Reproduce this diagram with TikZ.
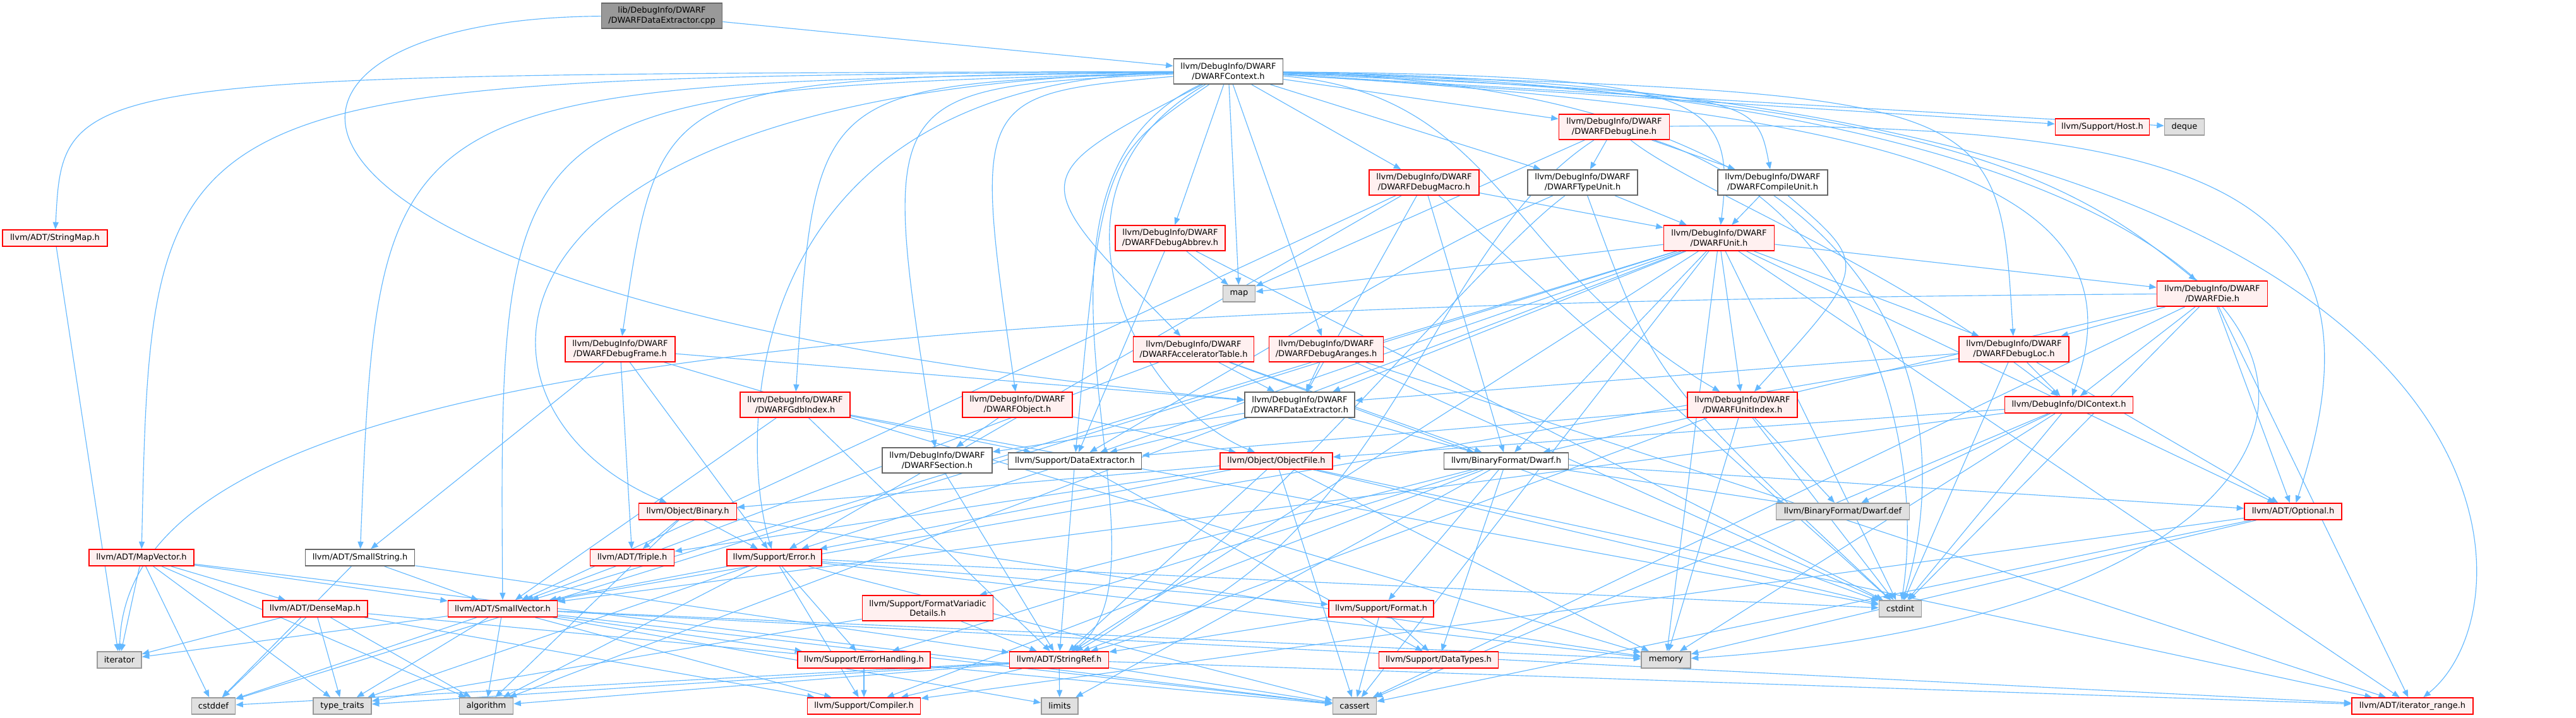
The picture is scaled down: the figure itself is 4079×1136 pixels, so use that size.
\documentclass[tikz,border=0pt]{standalone}
\usepackage{fontspec}
\setmainfont{DejaVu Sans}
\usetikzlibrary{arrows.meta}
\definecolor{eb}{HTML}{63B8FF}
\definecolor{rfill}{HTML}{FFF0F0}
\definecolor{gfill}{HTML}{E0E0E0}
\definecolor{gdraw}{HTML}{999999}
\definecolor{wdraw}{HTML}{666666}
\pgfdeclarelayer{bg}
\pgfsetlayers{bg,main}
\newcommand\edgesfrom[2]{\foreach \t in {#2}{\draw[ed] (#1) -- (\t);}}
\begin{document}
\begin{tikzpicture}[x=0.02cm,y=-0.02cm,
 nb/.style={draw, line width=1pt, inner sep=0pt, align=center, font=\fontsize{7.4pt}{8.9pt}\selectfont},
 rednode/.style={nb, draw=red, fill=rfill},
 graynode/.style={nb, draw=gdraw, fill=gfill},
 whitenode/.style={nb, draw=wdraw, fill=white},
 rootnode/.style={nb, draw=wdraw, fill=gdraw},
 bw/.style={minimum width=#1*0.02cm},
 hone/.style={minimum height=0.52cm},
 htwo/.style={minimum height=0.8cm},
 ed/.style={draw=eb, line width=0.65pt, -{Triangle[length=6.5pt,width=5.2pt]}},
]
\useasboundingbox (0,0) rectangle (4079,1136);
\node[rootnode,bw=191,htwo] (root) at (1048,25) {lib/DebugInfo/DWARF\\/DWARFDataExtractor.cpp};
\node[whitenode,bw=173,htwo] (ctx) at (1945,113) {llvm/DebugInfo/DWARF\\/DWARFContext.h};
\node[rednode,bw=166,hone] (strmap) at (87,377) {llvm/ADT/StringMap.h};
\node[rednode,bw=175,htwo] (dline) at (2556,201) {llvm/DebugInfo/DWARF\\/DWARFDebugLine.h};
\node[rednode,bw=174,htwo] (dmacro) at (2255,289) {llvm/DebugInfo/DWARF\\/DWARFDebugMacro.h};
\node[whitenode,bw=174,htwo] (tunit) at (2506,289) {llvm/DebugInfo/DWARF\\/DWARFTypeUnit.h};
\node[whitenode,bw=174,htwo] (cunit) at (2807,289) {llvm/DebugInfo/DWARF\\/DWARFCompileUnit.h};
\node[rednode,bw=174,htwo] (abbrev) at (1853,377) {llvm/DebugInfo/DWARF\\/DWARFDebugAbbrev.h};
\node[rednode,bw=175,htwo] (unit) at (2722,377) {llvm/DebugInfo/DWARF\\/DWARFUnit.h};
\node[rednode,bw=149,hone] (host) at (3329,201) {llvm/Support/Host.h};
\node[graynode,bw=63,hone] (deque) at (3459,201) {deque};
\node[graynode,bw=51,hone] (map) at (1962,465) {map};
\node[rednode,bw=175,htwo] (die) at (3503,465) {llvm/DebugInfo/DWARF\\/DWARFDie.h};
\node[rednode,bw=191,htwo] (accel) at (1890,553) {llvm/DebugInfo/DWARF\\/DWARFAcceleratorTable.h};
\node[rednode,bw=181,htwo] (aranges) at (2100,553) {llvm/DebugInfo/DWARF\\/DWARFDebugAranges.h};
\node[rednode,bw=174,htwo] (frame) at (982,553) {llvm/DebugInfo/DWARF\\/DWARFDebugFrame.h};
\node[rednode,bw=174,htwo] (dloc) at (3189,553) {llvm/DebugInfo/DWARF\\/DWARFDebugLoc.h};
\node[rednode,bw=174,htwo] (gdb) at (1259,641) {llvm/DebugInfo/DWARF\\/DWARFGdbIndex.h};
\node[rednode,bw=174,htwo] (dobj) at (1611,641) {llvm/DebugInfo/DWARF\\/DWARFObject.h};
\node[whitenode,bw=174,htwo] (dde) at (2058,641) {llvm/DebugInfo/DWARF\\/DWARFDataExtractor.h};
\node[rednode,bw=174,htwo] (uidx) at (2759,641) {llvm/DebugInfo/DWARF\\/DWARFUnitIndex.h};
\node[rednode,bw=203,hone] (dictx) at (3276,641) {llvm/DebugInfo/DIContext.h};
\node[whitenode,bw=174,htwo] (dsec) at (1484,729) {llvm/DebugInfo/DWARF\\/DWARFSection.h};
\node[whitenode,bw=211,hone] (dataext) at (1702,730) {llvm/Support/DataExtractor.h};
\node[rednode,bw=178,hone] (objfile) at (2021,730) {llvm/Object/ObjectFile.h};
\node[whitenode,bw=197,hone] (dwarfh) at (2385,730) {llvm/BinaryFormat/Dwarf.h};
\node[rednode,bw=155,hone] (binary) at (1089,810) {llvm/Object/Binary.h};
\node[graynode,bw=211,hone] (dwdef) at (2918,810) {llvm/BinaryFormat/Dwarf.def};
\node[rednode,bw=154,hone] (optional) at (3631,810) {llvm/ADT/Optional.h};
\node[rednode,bw=166,hone] (mapvec) at (224,883) {llvm/ADT/MapVector.h};
\node[whitenode,bw=173,hone] (smallstr) at (570,883) {llvm/ADT/SmallString.h};
\node[rednode,bw=133,hone] (triple) at (1001,883) {llvm/ADT/Triple.h};
\node[rednode,bw=150,hone] (error) at (1226,883) {llvm/Support/Error.h};
\node[rednode,bw=166,hone] (densemap) at (499,964) {llvm/ADT/DenseMap.h};
\node[rednode,bw=173,hone] (smallvec) at (796,964) {llvm/ADT/SmallVector.h};
\node[rednode,bw=207,htwo] (fvd) at (1469,963) {llvm/Support/FormatVariadic\\Details.h};
\node[rednode,bw=166,hone] (format) at (2187,964) {llvm/Support/Format.h};
\node[graynode,bw=67,hone] (cstdint) at (3009,964) {cstdint};
\node[graynode,bw=70,hone] (iterator) at (189,1045) {iterator};
\node[rednode,bw=210,hone] (errh) at (1368,1045) {llvm/Support/ErrorHandling.h};
\node[rednode,bw=157,hone] (strref) at (1677,1045) {llvm/ADT/StringRef.h};
\node[rednode,bw=189,hone] (datatypes) at (2278,1045) {llvm/Support/DataTypes.h};
\node[graynode,bw=78,hone] (memory) at (2638,1045) {memory};
\node[graynode,bw=69,hone] (cstddef) at (338,1118) {cstddef};
\node[graynode,bw=92,hone] (typetraits) at (542,1118) {type\_traits};
\node[graynode,bw=85,hone] (algorithm) at (770,1118) {algorithm};
\node[rednode,bw=179,hone] (compiler) at (1368,1118) {llvm/Support/Compiler.h};
\node[graynode,bw=58,hone] (limits) at (1678,1118) {limits};
\node[graynode,bw=69,hone] (cassert) at (2145,1118) {cassert};
\node[rednode,bw=192,hone] (itrange) at (3820,1118) {llvm/ADT/iterator\_range.h};

\begin{pgfonlayer}{bg}
\draw[ed] (root) -- (ctx);
\draw[ed] (root) .. controls (300,30) and (300,480) .. (dde);
% DWARFContext fan
\draw[ed] (ctx) .. controls (100,118) .. (strmap);
\draw[ed] (ctx) .. controls (240,125) .. (mapvec);
\draw[ed] (ctx) .. controls (600,135) .. (smallstr);
\draw[ed] (ctx) .. controls (790,145) .. (smallvec);
\draw[ed] (ctx) .. controls (705,140) and (705,650) .. (binary);
\draw[ed] (ctx) .. controls (1045,125) .. (frame);
\draw[ed] (ctx) .. controls (1160,130) and (1170,700) .. (error);
\draw[ed] (ctx) .. controls (1290,135) .. (gdb);
\draw[ed] (ctx) .. controls (1390,140) .. (dsec);
\draw[ed] (ctx) .. controls (1540,150) .. (dobj);
\draw[ed] (ctx) .. controls (1745,250) .. (dataext);
\draw[ed] (ctx) .. controls (1550,300) and (1880,900) .. (strref);
\draw[ed] (ctx) .. controls (1620,280) .. (accel);
\draw[ed] (ctx) .. controls (1620,300) and (1800,640) .. (objfile);
\draw[ed] (ctx) .. controls (2780,150) .. (cunit);
\draw[ed] (ctx) .. controls (2700,120) and (2750,150) .. (unit);
\draw[ed] (ctx) .. controls (3100,150) and (3300,300) .. (die);
\draw[ed] (ctx) .. controls (3165,150) .. (dloc);
\draw[ed] (ctx) .. controls (3050,180) and (3400,300) .. (dictx);
\draw[ed] (ctx) .. controls (2380,150) and (2380,420) .. (uidx);
\draw[ed] (ctx) .. controls (3090,140) and (3090,700) .. (cstdint);
\draw[ed] (ctx) .. controls (3965,150) and (3965,960) .. (memory);
\draw[ed] (ctx) .. controls (4030,140) and (4030,950) .. (itrange);
\edgesfrom{ctx}{abbrev,map,aranges,dmacro,dline,tunit,host,deque}
% DWARFDebugLine
\edgesfrom{dline}{tunit,cunit,map}
\draw[ed] (dline) .. controls (3500,190) and (3800,300) .. (optional);
\draw[ed] (dline) .. controls (2250,400) and (2200,900) .. (strref);
\draw[ed] (dline) .. controls (2680,300) and (3000,420) .. (dictx);
\draw[ed] (dline) .. controls (2950,330) and (3050,700) .. (cstdint);
% DWARFTypeUnit
\edgesfrom{tunit}{unit}
\draw[ed] (tunit) .. controls (2330,420) and (1950,900) .. (strref);
\draw[ed] (tunit) .. controls (2300,380) .. (dataext);
\draw[ed] (tunit) .. controls (2620,600) .. (cstdint);
% DWARFCompileUnit
\edgesfrom{cunit}{unit}
\draw[ed] (cunit) .. controls (2960,420) .. (uidx);
% DWARFUnit
\edgesfrom{unit}{die,uidx,dloc,optional,dwarfh,dataext,map,dde,memory,cstdint,cassert,algorithm,cstddef,smallvec,strref,itrange}
% DWARFDie
\edgesfrom{die}{dloc,dictx,optional,itrange,dwarfh,cassert,cstdint}
\draw[ed] (die) .. controls (1200,480) and (200,600) .. (iterator);
% others
\edgesfrom{dloc}{optional,smallvec,dictx,dde,cstdint}
\edgesfrom{dictx}{smallvec,objfile,cassert,cstdint,memory,dwdef}
\edgesfrom{uidx}{strref,dataext,cstdint,memory,dwdef}
\edgesfrom{dde}{dwarfh,dsec,dataext}
\edgesfrom{dsec}{strref}
\edgesfrom{dobj}{dsec,objfile}
\edgesfrom{accel}{smallvec,dwarfh,dde,cstdint}
\edgesfrom{aranges}{dde,itrange,cstdint}
\edgesfrom{abbrev}{dataext,cstdint,map}
\edgesfrom{frame}{smallstr,triple,error,dde,memory}
\edgesfrom{gdb}{smallvec,strref,dataext,cstdint}
\edgesfrom{dmacro}{smallvec,dwarfh,dde,unit,error,cstdint}
\edgesfrom{objfile}{strref,triple,itrange,binary,error,cassert,cstdint,memory}
\edgesfrom{binary}{triple,error,algorithm,memory}
\edgesfrom{dataext}{strref,datatypes,error}
\edgesfrom{dwarfh}{optional,compiler,datatypes,errh,format,fvd,limits,dwdef}
\edgesfrom{mapvec}{densemap,smallvec,algorithm,cassert,cstddef,iterator,typetraits}
\edgesfrom{densemap}{compiler,algorithm,cassert,cstddef,iterator,typetraits}
\edgesfrom{smallvec}{itrange,compiler,errh,algorithm,cassert,cstddef,iterator,limits,memory,typetraits}
\edgesfrom{smallstr}{smallvec,strref,cstddef}
\edgesfrom{strmap}{iterator}
\edgesfrom{error}{smallvec,compiler,errh,format,algorithm,cassert,cstdint,memory,typetraits}
\edgesfrom{fvd}{strref,typetraits}
\edgesfrom{format}{strref,datatypes,cassert}
\edgesfrom{errh}{compiler}
\edgesfrom{strref}{itrange,compiler,algorithm,cassert,cstddef,limits,typetraits}
\edgesfrom{optional}{compiler,cassert,memory}
\end{pgfonlayer}
\end{tikzpicture}
\end{document}
